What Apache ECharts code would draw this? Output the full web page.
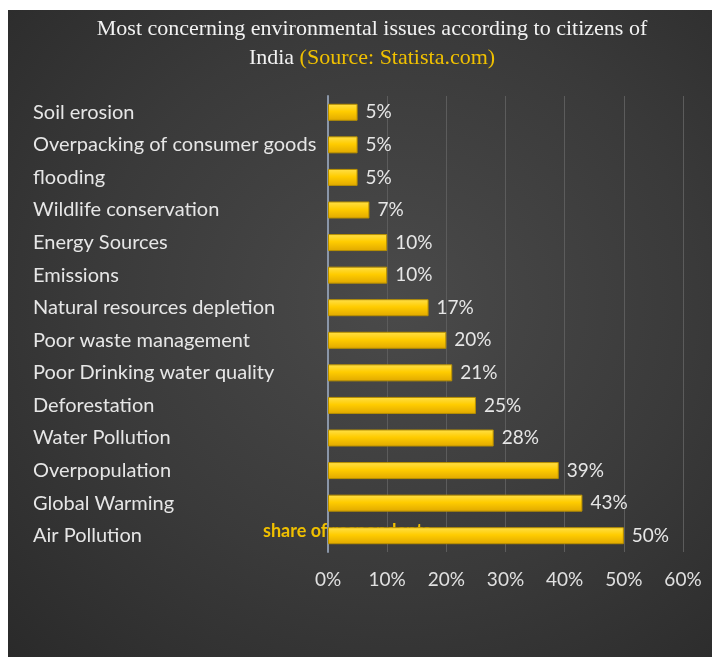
<!DOCTYPE html>
<html>
<head>
<meta charset="utf-8">
<script src="https://cdn.jsdelivr.net/npm/echarts@6/dist/echarts.min.js"></script>
<style>
    html, body { margin: 0; padding: 0; background: #fff; }
    #chart {
        position: absolute; left: 8px; top: 10px; width: 704px; height: 647px;
        background: radial-gradient(ellipse at 55% 45%, #4a4a4a 0%, #3a3a3a 55%, #2a2a2a 100%);
    }
</style>
</head>
<body>
<div id="chart"></div>
<script>
    // data
    const issues = ['Soil erosion', 'Overpacking of consumer goods', 'flooding', 'Wildlife conservation',
        'Energy Sources', 'Emissions', 'Natural resources depletion', 'Poor waste management',
        'Poor Drinking water quality', 'Deforestation', 'Water Pollution', 'Overpopulation',
        'Global Warming', 'Air Pollution'];
    const shares = [5, 5, 5, 7, 10, 10, 17, 20, 21, 25, 28, 39, 43, 50];

    const labelFont = 'Lato, "Noto Sans", sans-serif';

    const chart = echarts.init(document.getElementById('chart'));
    chart.setOption({
        backgroundColor: 'transparent',
        animation: false,
        title: {
            text: 'Most concerning environmental issues according to citizens of\nIndia {s|(Source: Statista.com)}',
            left: 359,
            top: 0,
            textAlign: 'center',
            textStyle: {
                color: '#f2f2f2',
                fontFamily: '"Liberation Serif", serif',
                fontWeight: 'normal',
                fontSize: 22,
                lineHeight: 29,
                rich: {
                    s: { color: '#f0c000', fontFamily: '"Liberation Serif", serif', fontSize: 22, lineHeight: 29 }
                }
            }
        },
        grid: { left: 320, right: 29, top: 86, bottom: 105 },
        xAxis: {
            type: 'value',
            min: 0, max: 60, interval: 10,
            axisLine: { show: false },
            axisTick: { show: false },
            splitLine: { lineStyle: { color: '#5c5c5c', width: 1 } },
            axisLabel: {
                formatter: '{value}%',
                color: '#e0e0e0',
                fontFamily: labelFont,
                fontSize: 19,
                margin: 18
            }
        },
        yAxis: {
            type: 'category',
            data: issues,
            inverse: true,
            axisLine: { lineStyle: { color: '#8a96a8', width: 2 } },
            axisTick: { show: false },
            axisLabel: {
                align: 'left',
                margin: 295,
                color: '#e6e6e6',
                fontFamily: labelFont,
                fontSize: 20
            }
        },
        graphic: [{
            type: 'text',
            z: 0,
            left: 255,
            top: 512,
            style: {
                text: 'share of respondents',
                fill: '#f0c000',
                font: 'bold 18px ' + labelFont
            }
        }],
        series: [{
            type: 'bar',
            data: shares,
            barWidth: 17,
            z: 5,
            itemStyle: {
                color: new echarts.graphic.LinearGradient(0, 0, 0, 1, [
                    { offset: 0, color: '#ffe04a' },
                    { offset: 0.45, color: '#ffcc00' },
                    { offset: 1, color: '#e0a800' }
                ]),
                borderColor: '#b89000',
                borderWidth: 1
            },
            label: {
                show: true,
                position: 'right',
                distance: 8,
                formatter: '{c}%',
                color: '#e6e6e6',
                fontFamily: labelFont,
                fontSize: 19
            }
        }]
    });
</script>
</body>
</html>
